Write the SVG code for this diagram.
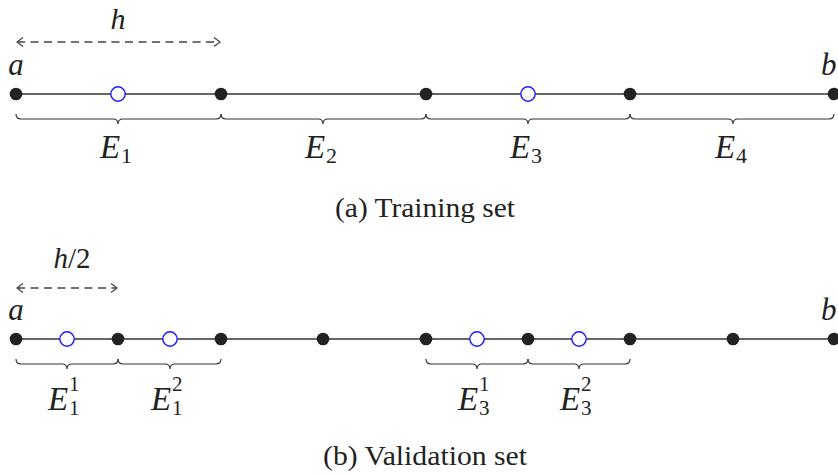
<svg xmlns="http://www.w3.org/2000/svg" width="838" height="474" viewBox="0 0 838 474">
<style>
.line{stroke:#333;stroke-width:1.4;fill:none}
.dot{fill:#222}
.open{fill:#fff;stroke:#1a1aff;stroke-width:1.4}
.brace{stroke:#333;stroke-width:1.2;fill:none}
.dash{stroke:#444;stroke-width:1.3;stroke-dasharray:8 5.5;fill:none}
.head{stroke:#444;stroke-width:1.2;fill:none}
.math{font-family:"Liberation Serif",serif;font-style:italic;fill:#222}
.num{font-family:"Liberation Serif",serif;font-style:normal;fill:#222}
.cap{font-family:"Liberation Serif",serif;fill:#222;font-size:27px}
</style>
<defs>
<marker id="chev" viewBox="0 0 12 12" refX="11" refY="6" markerWidth="12" markerHeight="12" markerUnits="userSpaceOnUse" orient="auto-start-reverse">
<path d="M5,1.5 L11,6 L5,10.5" class="head"/>
</marker>
</defs>

<!-- (a) Training set -->
<g id="training">
<g id="connectors-a">
<line class="line" x1="16" y1="94" x2="838" y2="94"/>
<line class="dash" x1="17" y1="42" x2="220" y2="42" marker-start="url(#chev)" marker-end="url(#chev)"/>
<path class="brace" d="M16,114 Q16,119 21,119 H113 Q118,119 118,124 Q118,119 123,119 H216 Q221,119 221,114"/>
<path class="brace" d="M221,114 Q221,119 226,119 H318 Q323,119 323,124 Q323,119 328,119 H421 Q426,119 426,114"/>
<path class="brace" d="M426,114 Q426,119 431,119 H523 Q528,119 528,124 Q528,119 533,119 H625 Q630,119 630,114"/>
<path class="brace" d="M630,114 Q630,119 635,119 H728 Q733,119 733,124 Q733,119 738,119 H829 Q834,119 834,114"/>
</g>
<g id="nodes-a">
<circle class="dot" cx="16" cy="94" r="6.3"/>
<circle class="dot" cx="221" cy="94" r="6.3"/>
<circle class="dot" cx="426" cy="94" r="6.3"/>
<circle class="dot" cx="630" cy="94" r="6.3"/>
<circle class="dot" cx="834" cy="94" r="6.3"/>
<circle class="open" cx="118" cy="94" r="7.2"/>
<circle class="open" cx="528" cy="94" r="7.2"/>
</g>
<text class="math" x="118" y="29" font-size="30" text-anchor="middle">h</text>
<text class="math" x="16" y="75" font-size="31" text-anchor="middle">a</text>
<text class="math" x="821" y="75" font-size="31">b</text>
<g id="E1"><text class="math" x="100" y="158" font-size="33">E</text><text class="num" x="121" y="163" font-size="22">1</text></g>
<g id="E2"><text class="math" x="305" y="158" font-size="33">E</text><text class="num" x="326" y="163" font-size="22">2</text></g>
<g id="E3"><text class="math" x="510" y="158" font-size="33">E</text><text class="num" x="531" y="163" font-size="22">3</text></g>
<g id="E4"><text class="math" x="715" y="158" font-size="33">E</text><text class="num" x="736" y="163" font-size="22">4</text></g>
<text class="cap" x="335" y="217" textLength="180" lengthAdjust="spacingAndGlyphs">(a) Training set</text>
</g>

<!-- (b) Validation set -->
<g id="validation">
<g id="connectors-b">
<line class="line" x1="16" y1="339" x2="838" y2="339"/>
<line class="dash" x1="17" y1="288" x2="117" y2="288" marker-start="url(#chev)" marker-end="url(#chev)"/>
<path class="brace" d="M16,359 Q16,364 21,364 H62 Q67,364 67,369 Q67,364 72,364 H113 Q118,364 118,359"/>
<path class="brace" d="M118,359 Q118,364 123,364 H165 Q170,364 170,369 Q170,364 175,364 H216 Q221,364 221,359"/>
<path class="brace" d="M426,359 Q426,364 431,364 H472 Q477,364 477,369 Q477,364 482,364 H523 Q528,364 528,359"/>
<path class="brace" d="M528,359 Q528,364 533,364 H574 Q579,364 579,369 Q579,364 584,364 H625 Q630,364 630,359"/>
</g>
<g id="nodes-b">
<circle class="dot" cx="16" cy="339" r="6.3"/>
<circle class="dot" cx="118" cy="339" r="6.3"/>
<circle class="dot" cx="221" cy="339" r="6.3"/>
<circle class="dot" cx="323" cy="339" r="6.3"/>
<circle class="dot" cx="426" cy="339" r="6.3"/>
<circle class="dot" cx="528" cy="339" r="6.3"/>
<circle class="dot" cx="630" cy="339" r="6.3"/>
<circle class="dot" cx="733" cy="339" r="6.3"/>
<circle class="dot" cx="834" cy="339" r="6.3"/>
<circle class="open" cx="67" cy="339" r="7.2"/>
<circle class="open" cx="170" cy="339" r="7.2"/>
<circle class="open" cx="477" cy="339" r="7.2"/>
<circle class="open" cx="579" cy="339" r="7.2"/>
</g>
<text x="72" y="268" font-size="29" text-anchor="middle"><tspan class="math">h</tspan><tspan class="num">/2</tspan></text>
<text class="math" x="16" y="320" font-size="31" text-anchor="middle">a</text>
<text class="math" x="821" y="320" font-size="31">b</text>
<g id="E11"><text class="math" x="48" y="410" font-size="33">E</text><text class="num" x="69" y="391" font-size="21">1</text><text class="num" x="69" y="415" font-size="21">1</text></g>
<g id="E12"><text class="math" x="151" y="410" font-size="33">E</text><text class="num" x="172" y="391" font-size="21">2</text><text class="num" x="172" y="415" font-size="21">1</text></g>
<g id="E31"><text class="math" x="458" y="410" font-size="33">E</text><text class="num" x="479" y="391" font-size="21">1</text><text class="num" x="479" y="415" font-size="21">3</text></g>
<g id="E32"><text class="math" x="560" y="410" font-size="33">E</text><text class="num" x="581" y="391" font-size="21">2</text><text class="num" x="581" y="415" font-size="21">3</text></g>
<text class="cap" x="323" y="465" textLength="204" lengthAdjust="spacingAndGlyphs">(b) Validation set</text>
</g>
</svg>
